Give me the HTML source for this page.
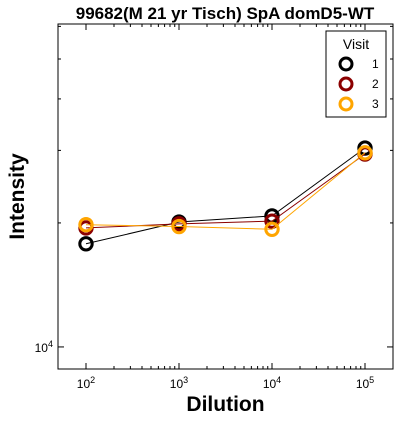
<!DOCTYPE html>
<html><head><meta charset="utf-8"><style>
html,body{margin:0;padding:0;background:#fff;width:400px;height:422px;overflow:hidden}
svg{display:block;font-family:"Liberation Sans",sans-serif}
</style></head><body>
<svg id="chart" width="400" height="422"></svg>
<script>
const dilutions=[100,1000,10000,100000];
const seriesNames=["1","2","3"];
const visit1=[17800,20100,20800,30400];
const visit2=[19450,19900,20200,29400];
const visit3=[19800,19600,19300,29600];
const xTickValues=[100,1000,10000,100000];
const xTickLabels=["2","3","4","5"];
const yMinorTicks=[20000,30000,40000,50000,60000,70000,80000,90000];

const svg=document.getElementById('chart');
const NS='http://www.w3.org/2000/svg';
const L=58,R=393,T=24,B=369;
const xMin=Math.log10(50),xMax=Math.log10(200000);
const yMin=Math.log10(8840),yMax=Math.log10(60800);
function xs(v){return L+(Math.log10(v)-xMin)/(xMax-xMin)*(R-L);}
function ys(v){return B-(Math.log10(v)-yMin)/(yMax-yMin)*(B-T);}
function mk(tag,attrs,parent){const e=document.createElementNS(NS,tag);for(const k in attrs)e.setAttribute(k,attrs[k]);(parent||svg).appendChild(e);return e;}

let t=mk('text',{x:225,y:19,'text-anchor':'middle','font-size':17,'font-weight':'bold'});
t.textContent='99682(M 21 yr Tisch) SpA domD5-WT';



let frame=mk('rect',{x:L,y:T,width:R-L,height:B-T,fill:'none',stroke:'#000','stroke-width':1});



xTickValues.forEach((v,i)=>{
  const x=xs(v);
  mk('line',{x1:x,x2:x,y1:B,y2:B-6,stroke:'#000'});
  mk('line',{x1:x,x2:x,y1:T,y2:T+6,stroke:'#000'});
  for(let m=2;m<10;m++){const mv=v*m;if(Math.log10(mv)<xMax){const xm=xs(mv);mk('line',{x1:xm,x2:xm,y1:B,y2:B-3,stroke:'#000'});mk('line',{x1:xm,x2:xm,y1:T,y2:T+3,stroke:'#000'});}}
  const lab=mk('text',{x:x,y:B+19,'text-anchor':'middle','font-size':12});
  lab.innerHTML='10<tspan dy="-5" font-size="9">'+xTickLabels[i]+'</tspan>';
  
  
});
{const y=ys(10000);mk('line',{x1:L,x2:L+6,y1:y,y2:y,stroke:'#000'});mk('line',{x1:R,x2:R-6,y1:y,y2:y,stroke:'#000'});
const lab=mk('text',{x:L-5,y:y+5,'text-anchor':'end','font-size':12});lab.innerHTML='10<tspan dy="-5" font-size="9">4</tspan>';

}
yMinorTicks.forEach(v=>{if(Math.log10(v)<yMax){const y=ys(v);mk('line',{x1:L,x2:L+3,y1:y,y2:y,stroke:'#000'});mk('line',{x1:R,x2:R-3,y1:y,y2:y,stroke:'#000'});}});

let xt=mk('text',{x:(L+R)/2,y:411,'text-anchor':'middle','font-size':21,'font-weight':'bold'});xt.textContent='Dilution';


let yt=mk('text',{x:0,y:0,'text-anchor':'middle','font-size':21,'font-weight':'bold',transform:'translate(24,'+((T+B)/2)+') rotate(-90)'});yt.textContent='Intensity';



const colors=['#000000','#8b0000','#ffa500'];
const allSeries=[visit1,visit2,visit3];
allSeries.forEach((s,si)=>{
  const g=mk('g',{});
  
  
  mk('polyline',{points:s.map((v,i)=>xs(dilutions[i])+','+ys(v)).join(' '),fill:'none',stroke:colors[si],'stroke-width':1},g);
  s.forEach((v,i)=>{
    const c=mk('circle',{cx:xs(dilutions[i]),cy:ys(v),r:6.2,fill:'none',stroke:colors[si],'stroke-width':3},g);
    
    
  });
});

const lg=mk('g',{});


mk('rect',{x:326,y:31,width:60,height:86,fill:'#fff',stroke:'#000'},lg);
let lt=mk('text',{x:356,y:49,'text-anchor':'middle','font-size':14},lg);lt.textContent='Visit';
seriesNames.forEach((n,i)=>{
  const y=64+i*20;
  const e=mk('g',{},lg);
  
  
  mk('circle',{cx:346,cy:y,r:6,fill:'none',stroke:colors[i],'stroke-width':3},e);
  const tx=mk('text',{x:372,y:y+4,'font-size':12},e);tx.textContent=n;
});
</script>
</body></html>
